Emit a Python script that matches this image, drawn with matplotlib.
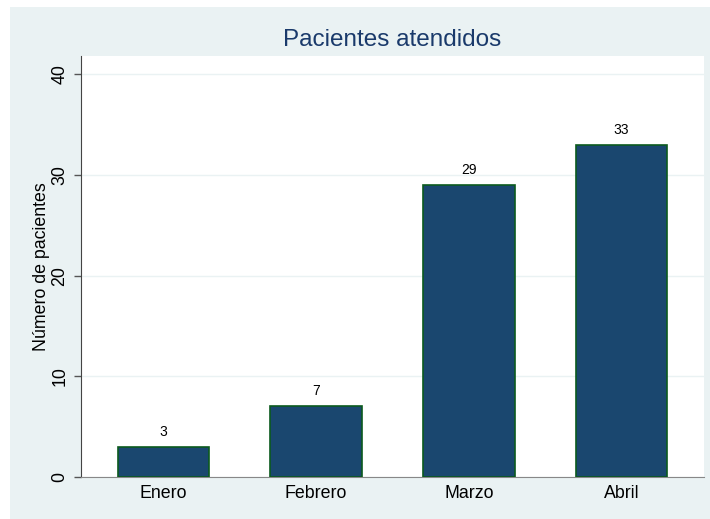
import matplotlib
matplotlib.use("Agg")
import matplotlib.pyplot as plt
from matplotlib.patches import Rectangle

meses = ["Enero", "Febrero", "Marzo", "Abril"]
pacientes = [3, 7, 29, 33]
yticks = [0, 10, 20, 30, 40]

plt.rcParams['font.family'] = ['Liberation Sans', 'DejaVu Sans']

W, H = 710, 519
fig = plt.figure(figsize=(W / 100, H / 100), dpi=100)
fig.patch.set_facecolor("white")
fig.patches.append(Rectangle((10 / W, 0), 1 - 10 / W, 1 - 7 / H,
                             transform=fig.transFigure, facecolor="#eaf2f3",
                             edgecolor="none", zorder=-10))

ax = fig.add_axes([81 / W, (H - 477) / H, 623 / W, 421 / H])
ax.set_zorder(1)
ax.set_facecolor("white")

x = range(len(meses))
bars = ax.bar(x, pacientes, width=0.6, color="#1a476f", edgecolor="#0b5a1e",
              linewidth=1.2, zorder=3)
for xi, v in zip(x, pacientes):
    ax.text(xi, v + 0.8, str(v), ha="center", va="bottom", fontsize=10)

ax.set_xlim(-0.54, 3.54)
ax.set_ylim(0, 41.8)
ax.set_xticks(list(x))
ax.set_xticklabels(meses, fontsize=12.8)
ax.set_yticks(yticks)
ax.set_yticklabels([str(t) for t in yticks], fontsize=12.8, rotation=90, va="center")
ax.tick_params(axis="x", length=0, pad=6)
ax.tick_params(axis="y", length=5, width=1, color="#555555", pad=4)
ax.yaxis.grid(True, color="#eaf2f3", linewidth=1, zorder=0)
ax.set_axisbelow(True)

for s in ["top", "right"]:
    ax.spines[s].set_visible(False)
ax.spines["left"].set_color("#444444")
ax.spines["bottom"].set_color("#888888")

ax.set_ylabel("Número de pacientes", fontsize=12.8, labelpad=1)
fig.text((81 + 704) / 2 / W, 1 - 40 / H, "Pacientes atendidos",
         ha="center", va="center", fontsize=17.5, color="#1a3a6b", zorder=5)

fig.savefig("out.png", dpi=100)
